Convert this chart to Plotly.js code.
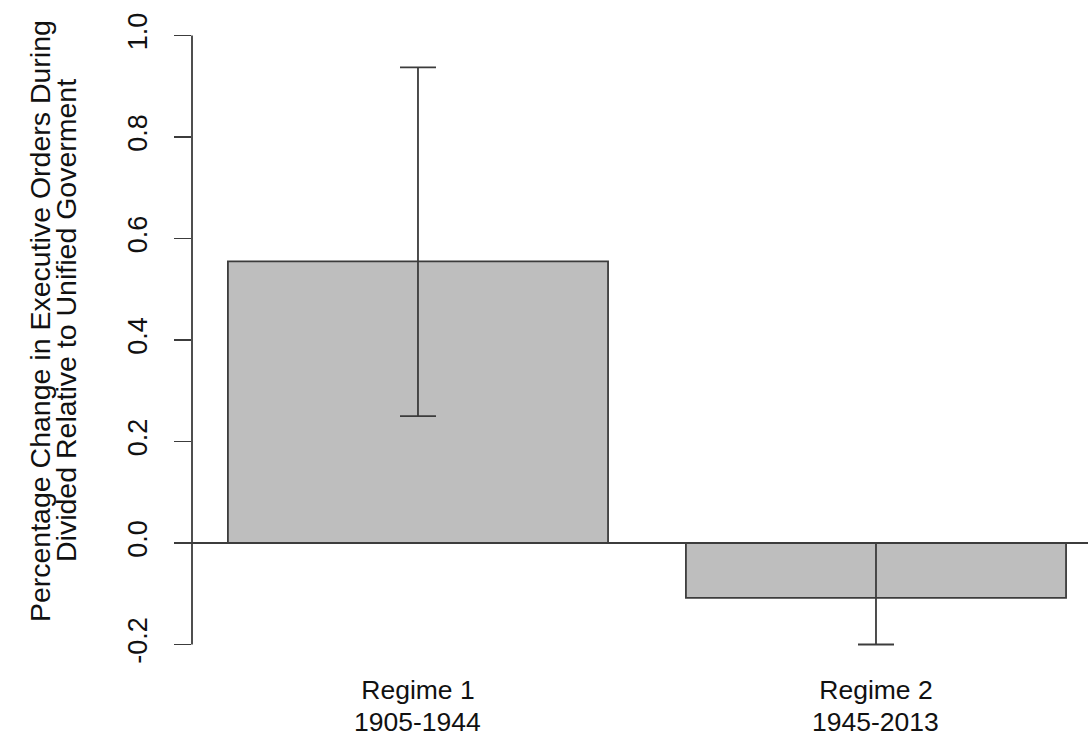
<!DOCTYPE html>
<html>
<head>
<meta charset="utf-8">
<script src="https://cdn.plot.ly/plotly-3.0.1.min.js"></script>
<style>html,body{margin:0;padding:0;background:#fff;}#chart{width:1088px;height:740px;}</style>
</head>
<body>
<div id="chart"></div>
<script>
// Data
const categories = ["Regime 1", "Regime 2"];
const periods = ["1905-1944", "1945-2013"];
const values = [0.555, -0.108];
const errUpper = [0.937, 0.0];
const errLower = [0.250, -0.200];
const yTickVals = [-0.2, 0.0, 0.2, 0.4, 0.6, 0.8, 1.0];
const yTickText = ["-0.2", "0.0", "0.2", "0.4", "0.6", "0.8", "1.0"];
const yTitleLines = ["Percentage Change in Executive Orders During", "Divided Relative to Unified Goverment"];

const plus = values.map((v, i) => errUpper[i] - v);
const minus = values.map((v, i) => v - errLower[i]);

const FONT = "Liberation Sans, Arial, Helvetica, sans-serif";
const TXT = "#111111";
const LINE = "#3c3c3c";

const trace = {
  type: "bar",
  x: categories,
  y: values,
  width: 0.83,
  marker: {color: "#bebebe", line: {color: LINE, width: 1.8}},
  error_y: {type: "data", symmetric: false, array: plus, arrayminus: minus,
            color: LINE, thickness: 1.8, width: 18},
  hoverinfo: "x+y"
};

const annotations = [];
periods.forEach((p, i) => {
  annotations.push({x: categories[i], xref: "x", y: -0.0973, yref: "paper",
    text: p, showarrow: false, xanchor: "center", yanchor: "middle",
    font: {family: FONT, size: 26.5, color: TXT}});
});
const titleX = [-0.1695, -0.1406];
yTitleLines.forEach((t, i) => {
  annotations.push({x: titleX[i], xref: "paper", y: 0.5297, yref: "paper",
    text: t, textangle: -90, showarrow: false, xanchor: "center", yanchor: "middle",
    font: {family: FONT, size: 28.5, color: TXT}});
});

const layout = {
  width: 1088, height: 740,
  margin: {l: 192, r: 0, t: 20, b: 80, pad: 0},
  paper_bgcolor: "#ffffff", plot_bgcolor: "#ffffff",
  showlegend: false,
  font: {family: FONT, color: TXT},
  xaxis: {type: "category", range: [-0.4934, 1.4629], showgrid: false, zeroline: false,
          showline: false, ticks: "", tickfont: {family: FONT, size: 26.5, color: TXT},
          ticklabelstandoff: 11, fixedrange: true},
  yaxis: {range: [-0.2305, 1.0305], showgrid: false, zeroline: false, showline: false,
          tickmode: "array", tickvals: yTickVals, ticktext: yTickText,
          ticks: "outside", ticklen: 17, tickwidth: 1.8, tickcolor: LINE,
          tickangle: -90, tickfont: {family: FONT, size: 27, color: TXT},
          ticklabelstandoff: 16, fixedrange: true},
  shapes: [
    {type: "line", xref: "paper", yref: "y", x0: 0, x1: 0, y0: yTickVals[0], y1: yTickVals[yTickVals.length - 1],
     line: {color: LINE, width: 1.8}},
    {type: "line", xref: "paper", yref: "y", x0: -0.019, x1: 1, y0: 0, y1: 0,
     line: {color: LINE, width: 1.8}}
  ],
  annotations: annotations
};

Plotly.newPlot("chart", [trace], layout, {displayModeBar: false, staticPlot: true});
</script>
</body>
</html>
